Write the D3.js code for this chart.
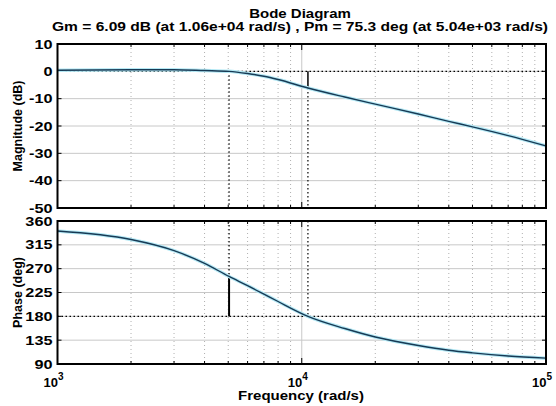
<!DOCTYPE html>
<html>
<head>
<meta charset="utf-8">
<script src="https://cdn.jsdelivr.net/npm/d3@7"></script>
<style>
  body { margin: 0; background: #fff; }
  text { font-family: "Liberation Sans", Arial, sans-serif; font-weight: bold; fill: #000; }
  .grid { stroke: #c8c8c8; stroke-width: 1; }
  .minor { stroke: #b0b0b0; stroke-width: 1; stroke-dasharray: 1,3; }
  .margin { stroke: #000; stroke-width: 1.2; stroke-dasharray: 1.5,2.5; }
</style>
</head>
<body>
<div id="chart"></div>
<script>
// values
var freq     = [1000, 2000, 3000, 4000, 5040, 6000, 7000, 8000, 10600, 15000, 20000, 30000, 40000, 50000, 70000, 100000];
var magDb    = [0.4, 0.6, 0.6, 0.3, 0, -0.8, -1.8, -3, -6.09, -9.4, -12, -15.6, -18.3, -20.3, -23.5, -27.3];
var phaseDeg = [341, 325, 304, 280, 255.3, 238, 222, 208, 180, 157, 141, 125, 116, 111, 105, 101];
var magTicks = [10, 0, -10, -20, -30, -40, -50];
var phaseTicks = [360, 315, 270, 225, 180, 135, 90];
var decades = [3, 4, 5];
var gmFreq = 10600, gmDb = 6.09;
var pmFreq = 5040, pmDeg = 75.3;

var W = 556, H = 406;
var left = 57.5, right = 546;
var magTop = 44, magBot = 208;
var phTop = 221, phBot = 364;
var fs = 12.5;      // label font size
var wide = 1.2;     // the picture's text is a bit stretched sideways

var svg = d3.select("#chart").append("svg")
  .attr("width", W).attr("height", H);

var x = d3.scaleLog().domain([1e3, 1e5]).range([left, right]);
var yMag = d3.scaleLinear().domain([-50, 10]).range([magBot, magTop]);
var yPh = d3.scaleLinear().domain([90, 360]).range([phBot, phTop]);

// widen a horizontal text by factor k
function stretch(t, k) {
  t.each(function() {
    var w = this.getComputedTextLength();
    d3.select(this).attr("textLength", w * k).attr("lengthAdjust", "spacingAndGlyphs");
  });
}

// minor frequencies 2..9 per decade
var minor = [];
for (var d = 3; d < 5; d++) {
  for (var m = 2; m <= 9; m++) minor.push(m * Math.pow(10, d));
}

function panel(y, ticks, top, bot) {
  var g = svg.append("g");
  g.selectAll(".hgrid").data(ticks).enter().append("line")
    .attr("class", "grid")
    .attr("x1", left).attr("x2", right)
    .attr("y1", function(d) { return y(d); }).attr("y2", function(d) { return y(d); });
  g.selectAll(".vminor").data(minor).enter().append("line")
    .attr("class", "minor")
    .attr("x1", function(d) { return x(d); }).attr("x2", function(d) { return x(d); })
    .attr("y1", top).attr("y2", bot);
  g.append("line").attr("class", "grid")
    .attr("x1", x(1e4)).attr("x2", x(1e4)).attr("y1", top).attr("y2", bot);

  // inward ticks, all four sides
  var tk = 4;
  ticks.forEach(function(t) {
    g.append("line").attr("x1", left).attr("x2", left + tk)
      .attr("y1", y(t)).attr("y2", y(t)).attr("stroke", "#000");
    g.append("line").attr("x1", right).attr("x2", right - tk)
      .attr("y1", y(t)).attr("y2", y(t)).attr("stroke", "#000");
  });
  minor.concat([1e4]).forEach(function(f) {
    var l = f === 1e4 ? 6 : 3;
    g.append("line").attr("x1", x(f)).attr("x2", x(f))
      .attr("y1", bot).attr("y2", bot - l).attr("stroke", "#000");
    g.append("line").attr("x1", x(f)).attr("x2", x(f))
      .attr("y1", top).attr("y2", top + l).attr("stroke", "#000");
  });

  var lab = g.selectAll(".ylab").data(ticks).enter().append("text")
    .attr("x", left - 5).attr("y", function(d) { return y(d) + 4.5; })
    .attr("text-anchor", "end").attr("font-size", fs)
    .text(function(d) { return d; });
  stretch(lab, 1.3);
  return g;
}

var gm = panel(yMag, magTicks, magTop, magBot);
var gp = panel(yPh, phaseTicks, phTop, phBot);

// margin markers
gm.append("line").attr("class", "margin")
  .attr("x1", left).attr("x2", right).attr("y1", yMag(0)).attr("y2", yMag(0));
gm.append("line").attr("class", "margin")
  .attr("x1", x(pmFreq)).attr("x2", x(pmFreq)).attr("y1", yMag(0)).attr("y2", magBot);
gm.append("line").attr("class", "margin")
  .attr("x1", x(gmFreq)).attr("x2", x(gmFreq)).attr("y1", yMag(-gmDb)).attr("y2", magBot);
gm.append("line").attr("stroke", "#000").attr("stroke-width", 1.5)
  .attr("x1", x(gmFreq)).attr("x2", x(gmFreq)).attr("y1", yMag(0)).attr("y2", yMag(-gmDb));

gp.append("line").attr("class", "margin")
  .attr("x1", left).attr("x2", right).attr("y1", yPh(180)).attr("y2", yPh(180));
gp.append("line").attr("class", "margin")
  .attr("x1", x(pmFreq)).attr("x2", x(pmFreq)).attr("y1", phTop).attr("y2", yPh(180 + pmDeg));
gp.append("line").attr("class", "margin")
  .attr("x1", x(gmFreq)).attr("x2", x(gmFreq)).attr("y1", phTop).attr("y2", yPh(180));
gp.append("line").attr("stroke", "#000").attr("stroke-width", 2)
  .attr("x1", x(pmFreq)).attr("x2", x(pmFreq)).attr("y1", yPh(180 + pmDeg)).attr("y2", yPh(180));

// curves
var magLine = d3.line().curve(d3.curveMonotoneX)
  .x(function(d, i) { return x(freq[i]); }).y(function(d) { return yMag(d); });
var phLine = d3.line().curve(d3.curveMonotoneX)
  .x(function(d, i) { return x(freq[i]); }).y(function(d) { return yPh(d); });

[[gm, magLine, magDb], [gp, phLine, phaseDeg]].forEach(function(c) {
  c[0].append("path").attr("d", c[1](c[2])).attr("fill", "none")
    .attr("stroke", "#b5e9f5").attr("stroke-width", 3.5);
  c[0].append("path").attr("d", c[1](c[2])).attr("fill", "none")
    .attr("stroke", "#173a55").attr("stroke-width", 1.4);
});

// frames
[[magTop, magBot], [phTop, phBot]].forEach(function(p) {
  svg.append("rect").attr("x", left).attr("y", p[0])
    .attr("width", right - left).attr("height", p[1] - p[0])
    .attr("fill", "none").attr("stroke", "#000").attr("stroke-width", 2);
});

// x tick labels 10^n
decades.forEach(function(n) {
  var t = svg.append("text").attr("x", x(Math.pow(10, n)) - 4).attr("y", 387)
    .attr("text-anchor", "middle").attr("font-size", fs + 0.5);
  t.append("tspan").text("10");
  t.append("tspan").attr("dy", -7).attr("font-size", 10).text(n);
});

var xl = svg.append("text").attr("x", 301).attr("y", 400).attr("text-anchor", "middle")
  .attr("font-size", fs).text("Frequency  (rad/s)");
stretch(xl, wide);

svg.append("text").attr("transform", "translate(22," + ((magTop + magBot) / 2) + ") rotate(-90)")
  .attr("text-anchor", "middle").attr("font-size", fs).text("Magnitude (dB)");
svg.append("text").attr("transform", "translate(22," + ((phTop + phBot) / 2) + ") rotate(-90)")
  .attr("text-anchor", "middle").attr("font-size", fs).text("Phase (deg)");

var t1 = svg.append("text").attr("x", 300).attr("y", 18).attr("text-anchor", "middle")
  .attr("font-size", fs).text("Bode Diagram");
stretch(t1, wide);
svg.append("text").attr("x", 300).attr("y", 31).attr("text-anchor", "middle")
  .attr("font-size", fs).attr("textLength", 496).attr("lengthAdjust", "spacingAndGlyphs")
  .text("Gm = 6.09 dB (at 1.06e+04 rad/s) ,  Pm = 75.3 deg (at 5.04e+03 rad/s)");
</script>
</body>
</html>
